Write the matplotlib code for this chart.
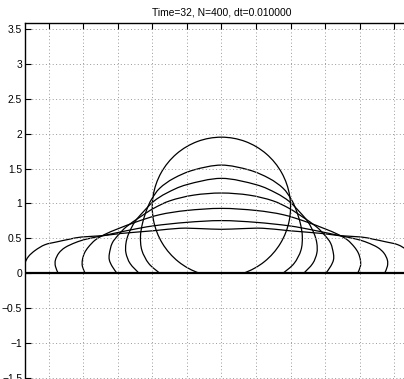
import numpy as np
import matplotlib.pyplot as plt
from matplotlib.path import Path
from matplotlib.patches import PathPatch, Arc

plt.rcParams['font.family'] = ['Liberation Sans', 'DejaVu Sans']

title = 'Time=32, N=400, dt=0.010000'

yticks = [-1.5, -1, -0.5, 0, 0.5, 1, 1.5, 2, 2.5, 3, 3.5]
ytick_labels = ['\u22121.5', '\u22121', '\u22120.5', '0', '0.5', '1', '1.5', '2', '2.5', '3', '3.5']
xticks = [-2.5, -2, -1.5, -1, -0.5, 0, 0.5, 1, 1.5, 2, 2.5]

# initial drop (circle cut by the wall y=0)
circle_center = (0.0, 0.95)
circle_radius = 1.0

# later drop profiles, left half: from contact point up to the apex at x=0
c2_x = [-0.89, -1.05, -1.15, -1.17, -1.14, -1.08, -1.01, -0.89, -0.69, -0.40, 0.0]
c2_y = [0.0, 0.14, 0.33, 0.53, 0.72, 0.91, 1.06, 1.22, 1.36, 1.48, 1.55]

c3_x = [-1.19, -1.32, -1.38, -1.38, -1.34, -1.25, -1.13, -0.98, -0.79, -0.50, 0.0]
c3_y = [0.0, 0.14, 0.29, 0.43, 0.57, 0.74, 0.88, 1.03, 1.15, 1.27, 1.36]

c4_x = [-1.51, -1.58, -1.62, -1.62, -1.58, -1.49, -1.37, -1.17, -0.98, -0.74, -0.40, 0.0]
c4_y = [0.0, 0.10, 0.19, 0.28, 0.43, 0.55, 0.67, 0.81, 0.93, 1.04, 1.12, 1.15]

c5_x = [-1.97, -2.01, -2.01, -1.98, -1.92, -1.82, -1.68, -1.49, -1.22, -0.89, -0.50, 0.0]
c5_y = [0.0, 0.10, 0.19, 0.29, 0.38, 0.48, 0.56, 0.64, 0.74, 0.84, 0.90, 0.93]

c6_x = [-2.36, -2.40, -2.40, -2.35, -2.26, -2.11, -1.95, -1.66, -1.32, -0.98, -0.50, 0.0]
c6_y = [0.0, 0.10, 0.19, 0.29, 0.37, 0.44, 0.49, 0.55, 0.62, 0.68, 0.73, 0.755]

c7_x = [-2.84, -2.84, -2.79, -2.69, -2.55, -2.38, -2.19, -2.02, -1.70, -1.46, -0.98, -0.60, -0.30, 0.0]
c7_y = [0.0, 0.14, 0.24, 0.33, 0.41, 0.45, 0.49, 0.52, 0.54, 0.57, 0.61, 0.645, 0.64, 0.63]

profiles = [(c2_x, c2_y), (c3_x, c3_y), (c4_x, c4_y), (c5_x, c5_y), (c6_x, c6_y), (c7_x, c7_y)]


def smooth_path(px, py):
    # Catmull-Rom through the points, drawn as cubic Bezier segments
    pts = np.column_stack([px, py])
    n = len(pts)
    verts = [pts[0]]
    codes = [Path.MOVETO]
    for i in range(n - 1):
        p0 = pts[max(i - 1, 0)]
        p1 = pts[i]
        p2 = pts[i + 1]
        p3 = pts[min(i + 2, n - 1)]
        verts += [p1 + (p2 - p0) / 6, p2 - (p3 - p1) / 6, p2]
        codes += [Path.CURVE4] * 3
    return Path(verts, codes)


fig = plt.figure(figsize=(4.04, 3.79), dpi=100)
ax = fig.add_axes([25 / 404, -0.0158, 392.8 / 404, 362.3 / 379])

ax.set_xlim(-2.84, 2.84)
ax.set_ylim(-1.6, 3.59)

ax.set_xticks(xticks)
ax.set_yticks(yticks)
ax.set_yticklabels(ytick_labels)
ax.tick_params(axis='both', direction='in', length=4, width=0.8, labelsize=7.4, pad=2,
               top=True, bottom=False, labelbottom=False, right=False)
ax.grid(True, color='#999999', linestyle=(0, (1, 2.5)), linewidth=0.7)
for s in ax.spines.values():
    s.set_linewidth(1.0)

theta = np.degrees(np.arcsin(circle_center[1] / circle_radius))
ax.add_patch(Arc(circle_center, 2 * circle_radius, 2 * circle_radius,
                 theta1=-theta, theta2=180 + theta, color='black', lw=0.9))

for x, y in profiles:
    full_x = list(x) + [-v for v in x[-2::-1]]
    full_y = list(y) + list(y[-2::-1])
    ax.add_patch(PathPatch(smooth_path(full_x, full_y), facecolor='none', edgecolor='black', lw=0.9))

ax.axhline(0, color='black', lw=1.6)

ax.set_title(title, fontsize=7.4, pad=5)

fig.savefig('out.png', dpi=100)
